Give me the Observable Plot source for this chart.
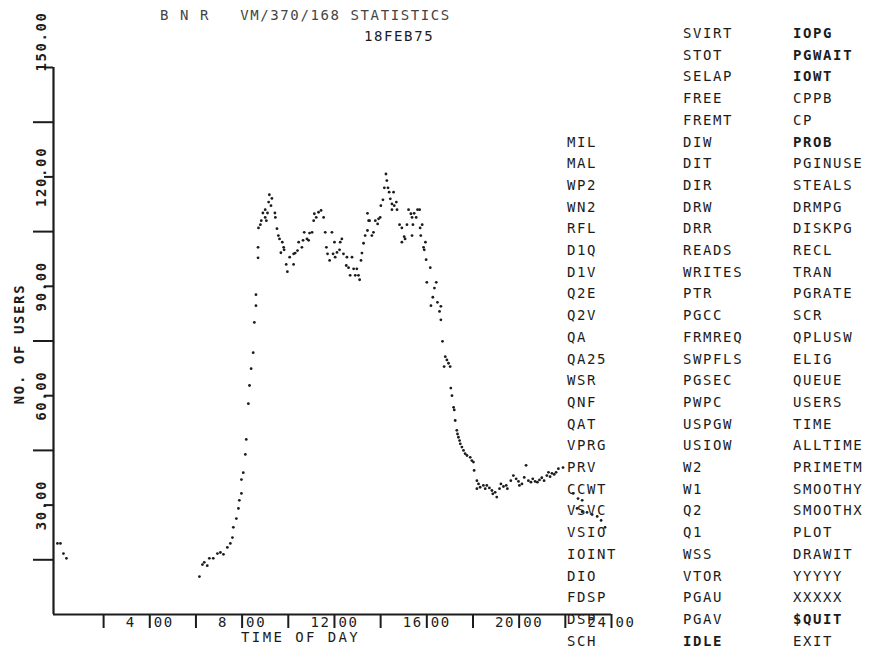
<!DOCTYPE html>
<html><head><meta charset="utf-8">
<script src="https://cdn.jsdelivr.net/npm/d3@7"></script>
<script src="https://cdn.jsdelivr.net/npm/@observablehq/plot@0.6"></script>
<style>
body{margin:0;background:#fff;}
#wrap{position:relative;width:880px;height:651px;overflow:hidden;background:#fff;font-family:"DejaVu Sans Mono",monospace;color:#1c1c1c;}
#wrap svg{position:absolute;left:0;top:0;}
.t{position:absolute;font-size:14px;letter-spacing:1.6px;white-space:pre;line-height:14px;transform:translateY(-50%);}
.b{font-weight:bold;}
</style></head><body><div id="wrap"></div>
<script>
// time of day (hours) and number of users
const times = [0.00,0.13,0.26,0.39,
6.15,6.28,6.36,6.49,6.58,6.75,6.93,7.06,7.19,7.36,7.49,7.58,7.62,7.75,7.84,7.88,7.97,7.97,8.05,8.14,8.18,8.27,8.32,8.39,8.48,8.53,8.60,8.60,8.69,8.69,8.71,8.79,8.83,8.90,9.00,9.00,9.05,9.10,9.15,9.18,9.25,9.29,9.42,9.44,9.51,9.57,9.62,9.68,9.74,9.80,9.82,9.91,9.96,
10.06,10.23,10.23,10.30,10.40,10.45,10.59,10.64,10.69,10.81,10.88,10.92,11.03,11.10,11.13,11.21,11.31,11.42,11.53,11.60,11.65,11.70,11.79,11.89,11.94,
12.00,12.03,12.11,12.22,12.25,12.32,12.39,12.51,12.54,12.61,12.68,12.76,12.83,12.90,12.97,13.04,13.09,13.15,13.19,13.26,13.33,13.43,13.43,13.48,13.52,13.62,13.69,13.77,13.87,13.91,13.98,
14.01,14.10,14.16,14.23,14.27,14.32,14.37,14.42,14.49,14.49,14.56,14.59,14.68,14.71,14.82,14.92,14.92,15.02,15.06,15.14,15.21,15.31,15.36,15.36,15.40,15.45,15.54,15.60,15.69,15.71,15.74,15.80,15.86,15.89,15.94,15.97,
16.00,16.15,16.18,16.26,16.33,16.41,16.46,16.55,16.61,16.61,16.68,16.75,16.80,16.87,16.94,17.01,17.04,17.09,17.16,17.19,17.23,17.30,17.33,17.37,17.42,17.45,17.52,17.59,17.66,17.74,17.88,17.95,
18.02,18.05,18.17,18.17,18.24,18.31,18.45,18.53,18.60,18.71,18.82,18.86,18.96,19.03,19.15,19.21,19.32,19.44,19.49,19.64,19.75,19.87,19.97,
20.01,20.12,20.22,20.30,20.40,20.51,20.59,20.69,20.79,20.88,20.98,21.08,21.20,21.27,21.34,21.42,21.52,21.60,21.70,21.90,
22.34,22.51,22.55,22.73,22.73,22.94,23.16,23.38,23.55,23.72];
const users = [19.5,19.5,16.7,15.4,
10.4,13.7,14.3,13.4,15.4,15.4,16.7,17.0,16.5,18.4,19.5,21.1,23.9,26.3,29.1,31.3,33.2,37.0,38.9,43.9,48.0,57.8,62.8,67.4,71.8,80.1,84.7,87.7,97.8,100.7,106.0,106.9,108.0,110.1,108.9,111.0,108.0,110.1,113.1,115.1,112.1,114.1,110.1,108.9,105.8,103.9,103.0,99.2,102.1,100.7,100.0,96.0,94.0,
98.0,98.9,96.0,99.1,99.8,102.1,100.7,102.6,104.8,103.0,102.6,104.6,104.8,108.0,109.9,108.9,110.3,110.8,108.9,104.8,100.7,98.9,97.1,104.8,98.9,
102.1,98.0,99.3,100.0,102.1,103.0,98.9,95.7,98.0,95.1,93.0,98.0,94.8,93.0,94.8,93.0,91.8,97.1,99.1,101.8,103.9,105.3,110.0,108.0,108.0,103.9,104.8,108.0,107.1,108.5,108.9,
112.1,113.7,117.0,120.8,119.0,117.0,115.8,114.0,112.6,111.0,115.8,112.1,113.1,111.0,106.9,106.0,102.1,103.6,103.0,106.9,111.0,109.9,108.9,103.9,106.9,110.0,108.9,111.0,111.0,106.0,103.9,106.9,100.7,100.0,102.1,97.3,
91.1,95.1,84.7,87.0,89.5,91.1,85.6,83.1,84.5,80.8,74.9,68.0,70.7,69.8,68.9,68.0,62.1,60.0,56.8,56.1,53.2,50.5,49.5,48.6,47.7,46.8,45.9,45.0,44.1,43.6,43.1,42.2,
41.8,39.5,36.7,34.5,35.8,34.9,35.4,34.5,35.4,34.7,34.0,33.1,33.5,32.2,34.5,35.8,35.1,35.4,34.5,36.7,38.1,37.2,36.5,
35.4,35.8,37.6,40.9,36.7,36.3,37.2,36.5,36.3,36.9,37.5,36.7,38.1,39.0,37.8,38.7,38.4,39.0,40.0,40.3,
33.2,29.1,31.8,31.3,28.2,28.0,27.4,26.9,25.8,23.9];

const xDomain = [-0.17, 24];
const yDomain = [0, 150];
const xLabelTicks = [4, 8, 12, 16, 20, 24];
const xMinorTicks = [2, 6, 10, 14, 18, 22];
const yLabelTicks = [30, 60, 90, 120, 150];
const yMinorTicks = [15, 45, 75, 105, 135];

const titleText = "B N R   VM/370/168 STATISTICS";
const dateText = "18FEB75";
const xTitle = "TIME OF DAY";
const yTitle = "NO. OF USERS";

const menuCol1 = ["MIL","MAL","WP2","WN2","RFL","D1Q","D1V","Q2E","Q2V","QA","QA25","WSR","QNF","QAT","VPRG","PRV","CCWT","VSVC","VSIO","IOINT","DIO","FDSP","DSP","SCH"];
const menuCol2 = ["SVIRT","STOT","SELAP","FREE","FREMT","DIW","DIT","DIR","DRW","DRR","READS","WRITES","PTR","PGCC","FRMREQ","SWPFLS","PGSEC","PWPC","USPGW","USIOW","W2","W1","Q2","Q1","WSS","VTOR","PGAU","PGAV","IDLE"];
const menuCol3 = ["IOPG","PGWAIT","IOWT","CPPB","CP","PROB","PGINUSE","STEALS","DRMPG","DISKPG","RECL","TRAN","PGRATE","SCR","QPLUSW","ELIG","QUEUE","USERS","TIME","ALLTIME","PRIMETM","SMOOTHY","SMOOTHX","PLOT","DRAWIT","YYYYY","XXXXX","$QUIT","EXIT"];
const boldItems = ["IOPG","PGWAIT","IOWT","PROB","$QUIT","IDLE"];

const data = times.map((t, i) => ({t, u: users[i]}));
const font = "DejaVu Sans Mono";
const ink = "#1c1c1c";
const txt = {fontFamily: font, fontSize: 14, fill: ink};

const chart = Plot.plot({
  width: 880, height: 651,
  marginLeft: 53, marginRight: 269, marginTop: 67, marginBottom: 37,
  style: {background: "transparent", fontFamily: font, color: ink},
  x: {domain: xDomain, axis: null},
  y: {domain: yDomain, axis: null},
  marks: [
    Plot.axisY({ticks: yMinorTicks, tickSize: 20, tickFormat: () => "", label: null, strokeWidth: 2, stroke: ink}),
    Plot.axisY({ticks: yLabelTicks, tickSize: 9, tickFormat: () => "", label: null, strokeWidth: 2, stroke: ink}),
    Plot.axisX({ticks: xMinorTicks, tickSize: 14, tickFormat: () => "", label: null, strokeWidth: 2, stroke: ink}),
    Plot.axisX({ticks: xLabelTicks, tickSize: 14, tickFormat: () => "", label: null, strokeWidth: 2, stroke: ink}),
    Plot.ruleX([xDomain[0]], {strokeWidth: 2.2, stroke: ink}),
    Plot.ruleY([yDomain[0]], {strokeWidth: 2.2, stroke: ink}),
    Plot.text(yLabelTicks.filter(d => d < 150), {y: d => d, text: d => d.toFixed(2), frameAnchor: "left", dx: -12, rotate: -90, textAnchor: "middle", lineAnchor: "middle", fontWeight: "bold", ...txt}),
    Plot.text(yLabelTicks.filter(d => d === 150), {y: d => d, text: d => d.toFixed(2), frameAnchor: "left", dx: -12, dy: -26, rotate: -90, textAnchor: "middle", lineAnchor: "middle", fontWeight: "bold", ...txt}),
    Plot.text(xLabelTicks, {x: d => d, text: d => d < 10 ? d + "\u00a0" : String(d), frameAnchor: "bottom", dy: 8, dx: -4, textAnchor: "end", lineAnchor: "middle", ...txt}),
    Plot.text(xLabelTicks, {x: d => d, text: () => "00", frameAnchor: "bottom", dy: 8, dx: 4, textAnchor: "start", lineAnchor: "middle", ...txt}),
    Plot.dot(data, {x: "t", y: "u", r: 1.4, fill: ink, stroke: null})
  ]
});
chart.querySelectorAll("text").forEach(t => t.style.letterSpacing = "1.6px");

const wrap = document.getElementById("wrap");
wrap.appendChild(chart);

function addText(str, left, top, cls) {
  const d = document.createElement("div");
  d.className = "t" + (cls ? " " + cls : "");
  d.textContent = str;
  d.style.left = left + "px";
  d.style.top = top + "px";
  wrap.appendChild(d);
  return d;
}
const rowY = i => 33 + i * 21.7;
menuCol1.forEach((s, i) => addText(s, 567, rowY(i + 5), boldItems.includes(s) ? "b" : ""));
menuCol2.forEach((s, i) => addText(s, 683, rowY(i), boldItems.includes(s) ? "b" : ""));
menuCol3.forEach((s, i) => addText(s, 793, rowY(i), boldItems.includes(s) ? "b" : ""));

const tt = addText(titleText, 160, 15); tt.style.color = "#444";
addText(dateText, 364, 36);
const xt = addText(xTitle, 241, 637); xt.style.letterSpacing = "2.4px";
const yt = addText(yTitle, 0, 0);
yt.style.left = "19px"; yt.style.top = "344px";
yt.style.transform = "translate(-50%,-50%) rotate(-90deg)";
yt.style.fontWeight = "bold";
</script></body></html>
